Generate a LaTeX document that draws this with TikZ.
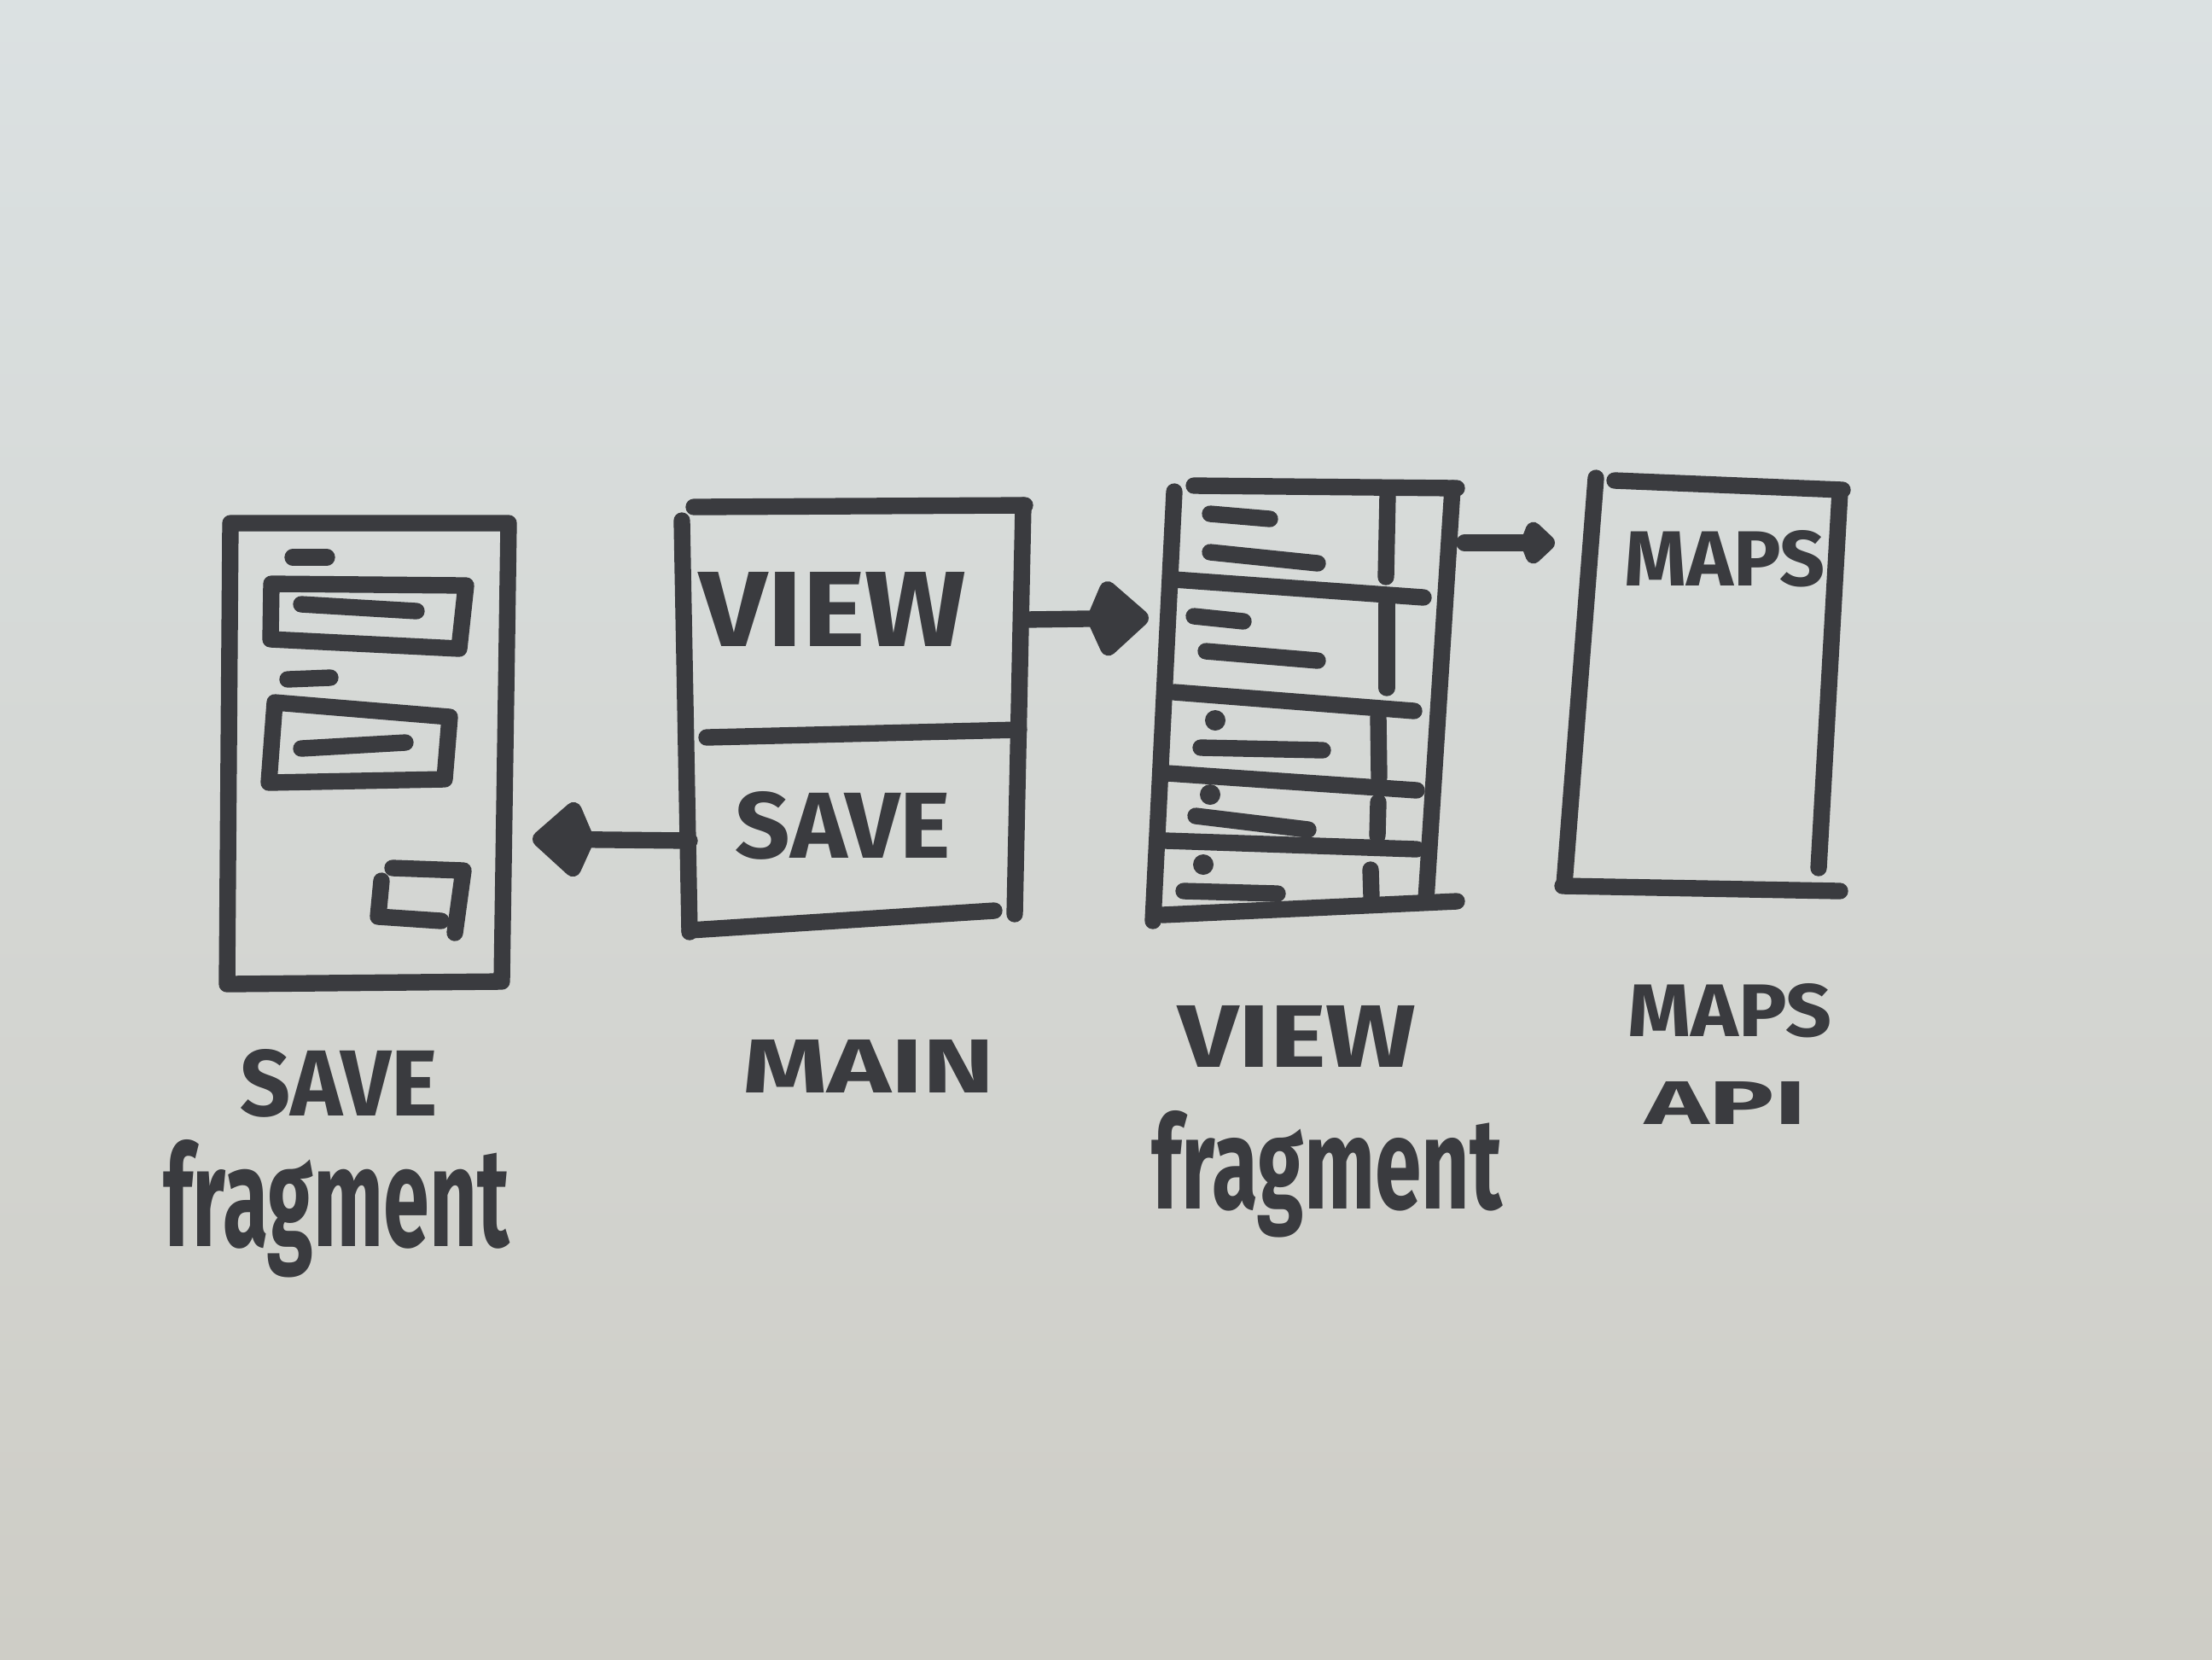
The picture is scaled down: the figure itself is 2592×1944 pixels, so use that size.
\documentclass[tikz,border=0pt]{standalone}
\usepackage{fontspec}
\setmainfont{Fira Sans}
\usepackage{graphicx}
\usetikzlibrary{arrows.meta}

\definecolor{ink}{RGB}{58,59,63}
\definecolor{paperTop}{RGB}{219,225,226}
\definecolor{paperMid}{RGB}{227,229,225}
\definecolor{paperBot}{RGB}{206,205,198}

% a word stretched to a given width and height
\newcommand{\fitword}[3]{\resizebox{#1}{#2}{\bfseries #3}}

\begin{document}
\begin{tikzpicture}[x=0.01cm,y=-0.01cm,
  pen/.style={draw=ink,line width=5.5pt,line cap=round,line join=round},
  bigflow/.style={pen,-{Kite[length=0.78cm,width=1.0cm,inset=0.22cm,round,fill=ink]}},
  smallflow/.style={pen,-{Kite[length=0.45cm,width=0.62cm,inset=0.12cm,round,fill=ink]}},
  word/.style={inner sep=0pt,text=ink},
  dot/.style={fill=ink}]

% paper
\useasboundingbox (0,0) rectangle (2592,1944);
\shade[top color=paperTop,middle color=paperMid,bottom color=paperBot]
  (0,0) rectangle (2592,1944);

% ---------- save fragment screen ----------
\draw[pen] (270,613) -- (596,613) -- (588,1150) -- (266,1153) -- cycle;
\draw[pen] (343,653) -- (383,653);
\draw[pen] (318,684) -- (546,686) -- (538,760) -- (317,749) -- cycle;
\draw[pen] (353,708) -- (488,716);
\draw[pen] (337,796) -- (387,794);
\draw[pen] (322,823) -- (527,840) -- (521,913) -- (315,917) -- cycle;
\draw[pen] (353,877) -- (475,870);
\draw[pen] (460,1017) -- (543,1020) -- (533,1093);
\draw[pen] (447,1032) -- (443,1074) -- (517,1079);
\coordinate (saveE) at (624,983);

% ---------- main screen ----------
\draw[pen] (813,594) -- (1201,592);
\draw[pen] (799,610) -- (808,1092);
\draw[pen] (1199,592) -- (1189,1071);
\draw[pen] (828,864) -- (1194,855);
\draw[pen] (808,1090) -- (1165,1067);
\node[word] (mainView) at (976,714) {\fitword{3.13cm}{0.87cm}{VIEW}};
\node[word] (mainSave) at (988,967) {\fitword{2.52cm}{0.78cm}{SAVE}};
\coordinate (mainE) at (1200,726);
\coordinate (mainW) at (808,985);

% ---------- view fragment list ----------
\draw[pen] (1399,569) -- (1707,572);
\draw[pen] (1376,576) -- (1351,1079);
\draw[pen] (1702,572) -- (1671,1054);
\draw[pen] (1376,679) -- (1668,700);
\draw[pen] (1376,811) -- (1657,833);
\draw[pen] (1368,906) -- (1660,926);
\draw[pen] (1366,985) -- (1660,995);
\draw[pen] (1362,1072) -- (1707,1056);
% row dividers
\draw[pen] (1626,579) -- (1624,676);
\draw[pen] (1625,708) -- (1625,806);
\draw[pen] (1615,840) -- (1616,911);
\draw[pen] (1615,940) -- (1614,979);
\draw[pen] (1606,1019) -- (1607,1051);
% row contents
\draw[pen] (1418,602) -- (1488,608);
\draw[pen] (1418,647) -- (1544,660);
\draw[pen] (1399,722) -- (1457,728);
\draw[pen] (1413,763) -- (1544,774);
\fill[dot] (1424,844) circle[radius=0.12cm];
\draw[pen] (1407,876) -- (1550,879);
\fill[dot] (1418,931) circle[radius=0.12cm];
\draw[pen] (1401,956) -- (1533,972);
\fill[dot] (1410,1013) circle[radius=0.12cm];
\draw[pen] (1387,1044) -- (1497,1047);
\coordinate (viewW) at (1346,724);
\coordinate (viewE) at (1716,636);

% ---------- maps screen ----------
\draw[pen] (1870,560) -- (1833,1036);
\draw[pen] (1892,563) -- (2159,574);
\draw[pen] (2156,576) -- (2131,1017);
\draw[pen] (1831,1038) -- (2156,1044);
\node[word] (mapsText) at (2021,655) {\fitword{2.35cm}{0.65cm}{MAPS}};
\coordinate (mapsW) at (1822,636);

% ---------- navigation ----------
\draw[bigflow] (mainE) -- (viewW);
\draw[bigflow] (mainW) -- (saveE);
\draw[smallflow] (viewE) -- (mapsW);

% ---------- captions ----------
\node[word] (capSave) at (397,1269) {\fitword{2.31cm}{0.78cm}{SAVE}};
\node[word] (capSaveFrag) at (394,1416) {\fitword{4.05cm}{1.25cm}{fragment}};
\node[word] (capMain) at (1018,1249) {\fitword{2.95cm}{0.62cm}{MAIN}};
\node[word] (capView) at (1520,1214) {\fitword{2.79cm}{0.72cm}{VIEW}};
\node[word] (capViewFrag) at (1555,1376) {\fitword{4.1cm}{1.15cm}{fragment}};
\node[word] (capMaps) at (2027,1184) {\fitword{2.39cm}{0.62cm}{MAPS}};
\node[word] (capApi) at (2022,1292) {\fitword{1.89cm}{0.5cm}{API}};

\end{tikzpicture}
\end{document}
